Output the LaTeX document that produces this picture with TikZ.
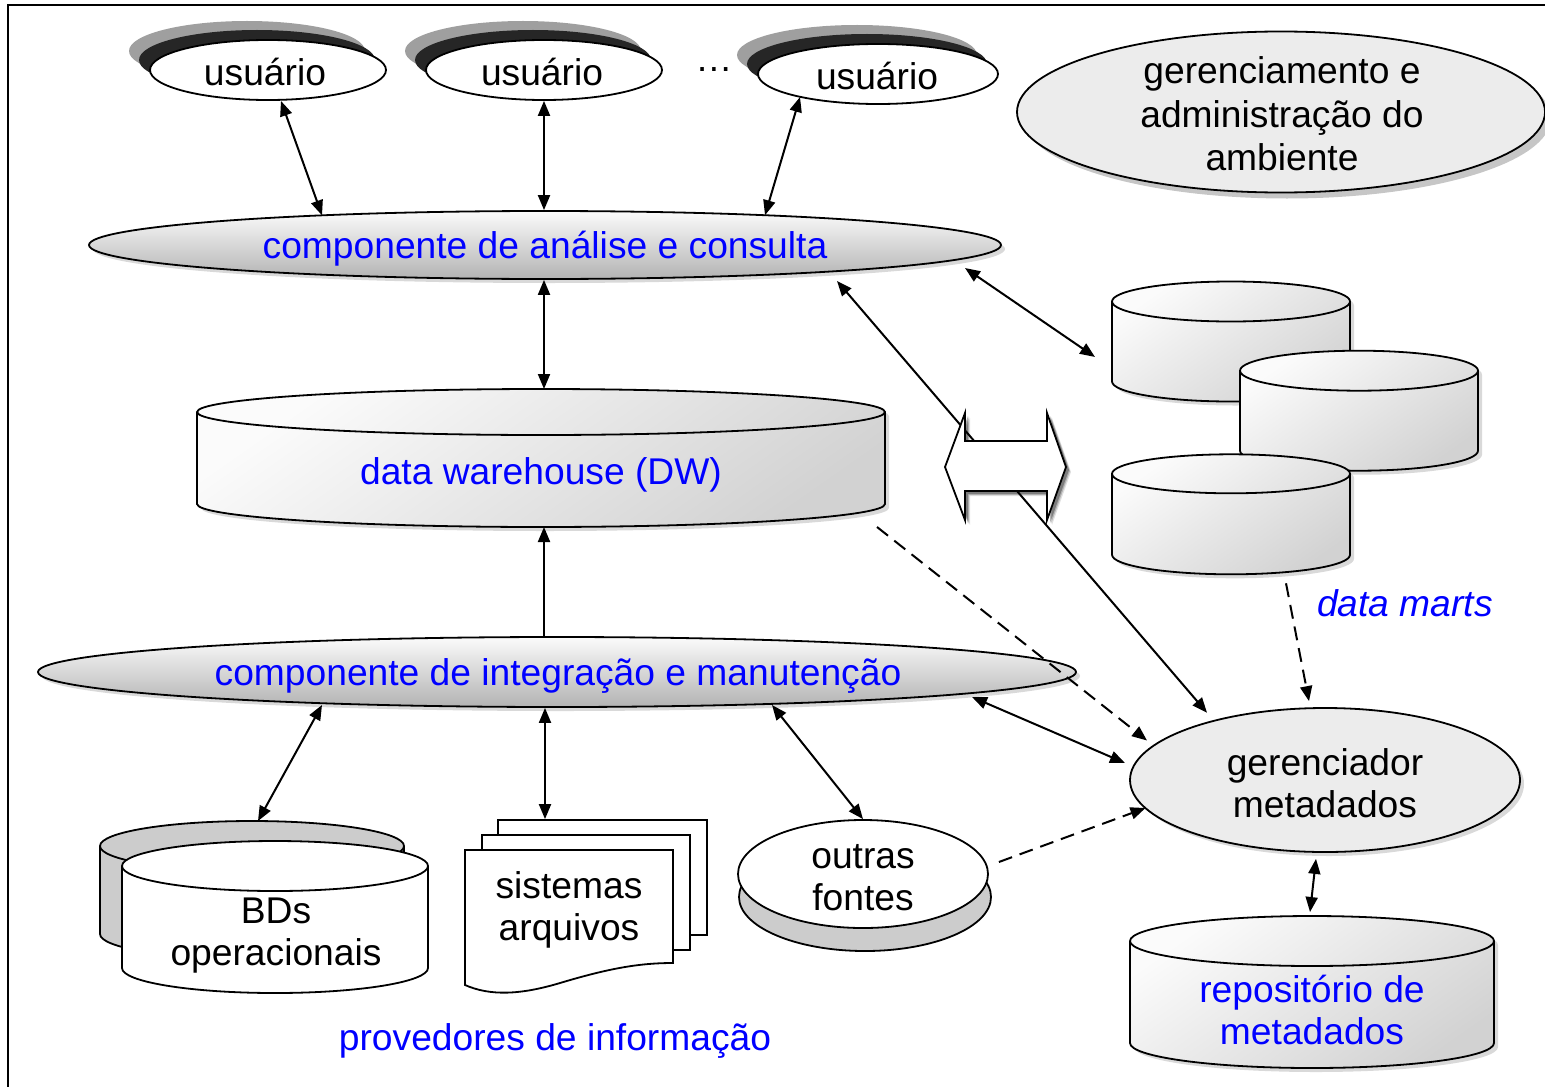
\documentclass[tikz,border=0pt]{standalone}
\usepackage{fontspec}
\setmainfont{Liberation Sans}
\usetikzlibrary{shapes.geometric,arrows.meta,shadows,calc}
\newcommand\mycyl[7]{%
  \node[inner sep=0,outer sep=0,minimum width=#4pt,minimum height=#5pt] (#1) at (#2,#3) {};
  \path[#7] ($(#1.north west)+(0,-#6)$) -- ($(#1.south west)+(0,#6)$)
     arc[start angle=180,end angle=360,x radius=#4*0.5pt,y radius=#6*0.5pt]
     -- ($(#1.north east)+(0,-#6)$)
     arc[start angle=0,end angle=180,x radius=#4*0.5pt,y radius=#6*0.5pt] -- cycle;
  \draw[line width=0.9pt] ($(#1.north west)+(0,-#6)$)
     arc[start angle=180,end angle=360,x radius=#4*0.5pt,y radius=#6*0.5pt];
}
\begin{document}
\begin{tikzpicture}[x=0.5pt,y=0.5pt,
  >={Triangle[length=7.5pt,width=6pt]},
  lin/.style={line width=1pt},
  conn/.style={line width=1pt,<->},
  dsh/.style={line width=1pt,dash pattern=on 7pt off 4pt,->},
  txt/.style={font=\fontsize{18.6}{21}\selectfont,align=center,inner sep=0},
  btxt/.style={txt,text=blue},
  outl/.style={draw,line width=0.9pt},
  shad/.style={drop shadow={opacity=0.3,shadow xshift=2pt,shadow yshift=-2pt}},
  ell/.style={ellipse,outl,inner sep=0},
  cylsh/.style={outl,top color=gray!3,bottom color=gray!35,shading angle=35,shad},
  ushad1/.style={fill=gray!75},
  ushad2/.style={fill=black!85},
  uell/.style={ell,fill=white,minimum width=118pt,minimum height=30pt},
]
\useasboundingbox (0,0) rectangle (1545,-1086);
% frame
\draw[line width=1pt] (8,-1090) -- (8,-5) -- (1550,-5);

% users
\path[ushad1] (247,-51) ellipse[x radius=59pt,y radius=15pt];
\path[ushad2] (257,-60) ellipse[x radius=59pt,y radius=15pt];
\node[uell] (u1) at (268,-70) {};
\node[txt] (u1t) at (265,-72) {usuário};
\path[ushad1] (523,-51) ellipse[x radius=59pt,y radius=15pt];
\path[ushad2] (533,-60) ellipse[x radius=59pt,y radius=15pt];
\node[uell] (u2) at (544,-70) {};
\node[txt] (u2t) at (542,-72) {usuário};
\path[ushad1] (857,-55) ellipse[x radius=60pt,y radius=15pt];
\path[ushad2] (867,-64) ellipse[x radius=60pt,y radius=15pt];
\node[uell,minimum width=120pt] (u3) at (878,-74) {};
\node[txt] (u3t) at (877,-76) {usuário};
\node[txt] (dots) at (714,-70) {…};

% gerenciamento
\node[ell,fill=gray!15,drop shadow={opacity=0.45,shadow xshift=3pt,shadow yshift=-3pt},minimum width=264pt,minimum height=80.5pt] (gm) at (1281,-112) {};
\node[txt,font=\fontsize{18.6}{21.75}\selectfont] (gmt) at (1282,-114) {gerenciamento e\\administração do\\ambiente};

% analysis component
\node[ell,top color=gray!3,bottom color=gray!60,shad,minimum width=456pt,minimum height=34pt] (ac) at (545,-245) {};
\node[btxt] (act) at (545,-249) {componente de análise e consulta};

% data warehouse
\mycyl{dw}{541}{-458}{344}{69}{23}{cylsh}
\node[btxt] (dwt) at (541,-475) {data warehouse (DW)};
\coordinate (dwx) at ([xshift=1.5pt]dw.north);

% integration component
\node[ell,top color=gray!3,bottom color=gray!60,shad,minimum width=519pt,minimum height=35pt] (ai) at (557,-672) {};
\node[btxt] (ait) at (558,-676) {componente de integração e manutenção};

% data marts
\mycyl{dm1}{1231}{-341.5}{119}{60}{20}{cylsh}
\mycyl{dm2}{1359}{-410.7}{119}{60}{20}{cylsh}
\mycyl{dm3}{1231}{-514.3}{119}{60}{19.5}{cylsh}
\node[btxt,font=\fontsize{18.6}{21}\selectfont\itshape] (dmt) at (1405,-603) {data marts};

% metadata manager
\node[ell,fill=gray!15,shad,minimum width=195pt,minimum height=72pt] (ge) at (1325,-780) {};
\node[txt] (get) at (1325,-783) {gerenciador\\metadados};

% long line behind double arrow
\draw[conn] ([shift={(146pt,-18pt)}]ac.center) -- ([shift={(-59pt,33.65pt)}]ge.center);

% big double arrow (layered shadow for blur)
\foreach \o/\s in {0.12/5,0.2/4,0.3/3} {
  \fill[black,opacity=\o]
  (945+\s,-467-\s) -- (965+\s,-413-\s) -- (965+\s,-441-\s) -- (1047+\s,-441-\s) -- (1047+\s,-413-\s) -- (1066+\s,-467-\s)
  -- (1047+\s,-520-\s) -- (1047+\s,-491-\s) -- (965+\s,-491-\s) -- (965+\s,-520-\s) -- cycle;
}
\path[outl,fill=white]
  (945,-467) -- (965,-413) -- (965,-441) -- (1047,-441) -- (1047,-413) -- (1066,-467)
  -- (1047,-520) -- (1047,-491) -- (965,-491) -- (965,-520) -- cycle;

% repository
\mycyl{rp}{1312}{-992}{182}{76}{25}{cylsh}
\node[btxt] (rpt) at (1312,-1010) {repositório de\\metadados};

% BDs operacionais
\mycyl{bdb}{252}{-890}{152}{69}{25}{outl,fill=gray!40}
\mycyl{bd}{275}{-917}{153}{76}{25}{outl,fill=white}
\node[txt] (bdt) at (276,-936) {BDs\\operacionais};

% sistemas arquivos
\node[outl,fill=white,inner sep=0,minimum width=104.5pt,minimum height=57.5pt] (sab) at (602.5,-877.5) {};
\node[outl,fill=white,inner sep=0,minimum width=104pt,minimum height=57.5pt] (sam) at (586,-892.5) {};
\path[outl,fill=white] (465,-850) -- (465,-985)
  .. controls (490,-996) and (520,-995) .. (560,-983)
  .. controls (610,-968) and (640,-963) .. (673,-963) -- (673,-850) -- cycle;
\node[txt] (sat) at (569,-909.5) {sistemas\\arquivos};
\coordinate (sj) at ([xshift=-28.75pt]sab.north);

% outras fontes
\node[ell,fill=gray!40,minimum width=126pt,minimum height=54pt] (ofb) at (865,-897) {};
\node[ell,fill=white,minimum width=125pt,minimum height=54pt] (of) at (863,-874) {};
\node[txt] (oft) at (863,-878) {outras\\fontes};

\node[btxt] (pv) at (555,-1041) {provedores de informação};

% connectors
\draw[conn] ([shift={(6.5pt,-15.5pt)}]u1.center) -- ([shift={(-111.5pt,14.85pt)}]ac.center);
\draw[conn] (u2.south) -- (u2.south |- ac.north);
\draw[conn] ([shift={(-39pt,-11.5pt)}]u3.center) -- ([shift={(110pt,14.9pt)}]ac.center);
\draw[conn] ([shift={(210pt,-11.5pt)}]ac.center) -- ([shift={(-8.5pt,-7.75pt)}]dm1.west);
\draw[conn] (ac.south -| dwx) -- (dwx);
\draw[lin,->] (ai.north -| dwx) -- (dwx |- dw.south);
\draw[dsh] ([xshift=-4pt]dw.south east) -- ([shift={(-89pt,19.75pt)}]ge.center);
\draw[conn] ([shift={(207.5pt,-12.5pt)}]ai.center) -- ([shift={(-100pt,8.5pt)}]ge.center);
\draw[dsh] ([shift={(5pt,6pt)}]of.east) -- ([shift={(-89.75pt,-14pt)}]ge.center);
\draw[dsh] ([shift={(27.5pt,-4.5pt)}]dm3.south) -- ([shift={(-8pt,3pt)}]ge.north);
\draw[conn] ([shift={(-4.5pt,-3pt)}]ge.south) -- ([shift={(-1pt,2pt)}]rp.north);
\draw[conn] ([shift={(-117.5pt,-16.5pt)}]ai.center) -- ([xshift=3pt]bdb.north);
\draw[conn] (sj |- ai.south) -- (sj);
\draw[conn] ([shift={(107.5pt,-16.5pt)}]ai.center) -- (of.north);
\end{tikzpicture}
\end{document}
